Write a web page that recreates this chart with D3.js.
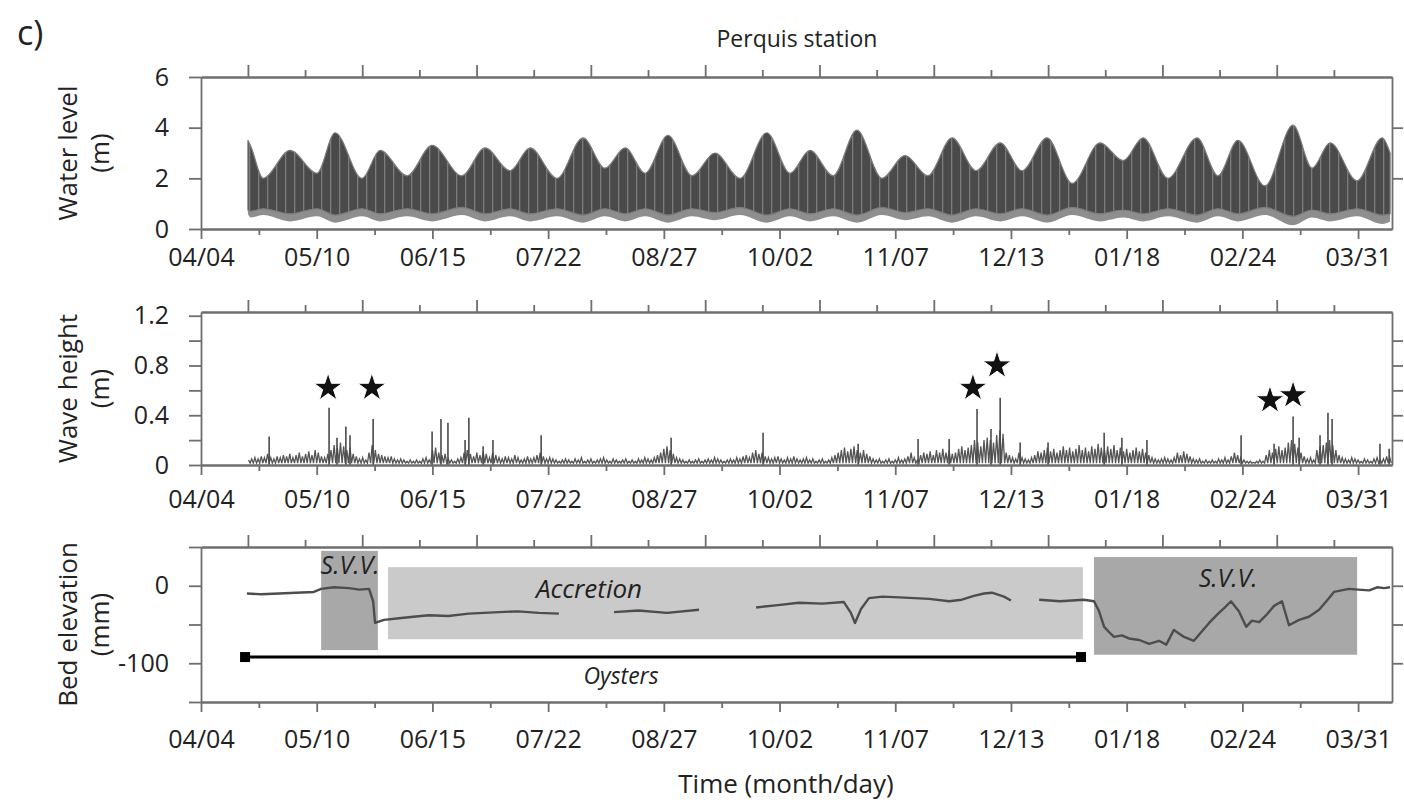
<!DOCTYPE html>
<html><head><meta charset="utf-8">
<script src="https://cdn.jsdelivr.net/npm/d3@7"></script>
<style>
body{margin:0;background:#fff}
text{font-family:"Open Sans","Noto Sans",sans-serif;fill:#222}
</style>
</head><body>
<svg id="c" width="1404" height="808"></svg>
<script>
// ---------- data ----------
const xTickLabels = ["04/04","05/10","06/15","07/22","08/27","10/02","11/07","12/13","01/18","02/24","03/31"];

// Water level: envelope read at spring peaks / neap troughs (day since 04/04, metres)
const tideDays   = [14.8,15.6,19.6,28.1,36.6,42.3,50.8,56.5,65.0,72.9,82.3,89.6,97.5,103.8,112.3,120.5,127.4,133.8,140.1,147.3,154.9,162.1,170.0,178.5,185.8,192.1,199.4,206.9,214.8,222.1,229.3,236.9,244.5,252.1,259.0,266.9,274.8,283.6,290.9,297.2,305.0,314.2,320.8,327.1,335.6,344.5,350.5,356.2,364.7,372.6,375.1];
const tideHigh   = [3.5,3.3,2.0,3.1,2.2,3.8,2.0,3.1,2.1,3.3,2.1,3.2,2.3,3.2,2.0,3.6,2.4,3.2,2.2,3.7,2.1,3.0,2.0,3.8,2.2,3.1,2.1,3.9,2.0,2.9,2.1,3.6,2.3,3.4,2.3,3.6,1.8,3.4,2.7,3.6,2.0,3.6,2.1,3.5,1.7,4.1,2.4,3.4,1.9,3.6,3.0];
const tideLow    = [0.75,0.7,0.8,0.6,0.8,0.55,0.8,0.6,0.8,0.6,0.85,0.6,0.8,0.6,0.8,0.55,0.8,0.6,0.8,0.55,0.8,0.65,0.85,0.55,0.8,0.6,0.8,0.55,0.85,0.65,0.8,0.55,0.8,0.6,0.8,0.55,0.85,0.6,0.75,0.6,0.8,0.55,0.8,0.6,0.85,0.5,0.75,0.6,0.8,0.55,0.6];
const tideLowest = [0.6,0.45,0.55,0.3,0.5,0.25,0.5,0.3,0.5,0.3,0.55,0.3,0.5,0.3,0.5,0.25,0.5,0.3,0.5,0.25,0.5,0.35,0.55,0.25,0.5,0.3,0.5,0.25,0.55,0.35,0.5,0.25,0.5,0.3,0.5,0.25,0.55,0.3,0.45,0.3,0.5,0.25,0.5,0.3,0.55,0.15,0.45,0.3,0.5,0.2,0.3];

// Wave height: daily background maxima from day 15 (m), and the quiet floor between them
const waveBase = [
  0.04,0.05,0.06,0.05,0.07,0.06,0.09,0.06,0.05,0.07,
  0.06,0.08,0.07,0.09,0.06,0.08,0.10,0.07,0.09,0.11,
  0.08,0.12,0.10,0.07,0.06,0.09,0.12,0.16,0.14,0.18,
  0.15,0.12,0.14,0.09,0.07,0.05,0.06,0.04,0.10,0.16,
  0.12,0.09,0.08,0.07,0.06,0.07,0.05,0.04,0.05,0.04,
  0.03,0.04,0.03,0.04,0.03,0.05,0.06,0.04,0.12,0.14,
  0.10,0.08,0.09,0.05,0.04,0.03,0.05,0.06,0.10,0.12,
  0.09,0.07,0.10,0.08,0.11,0.09,0.06,0.10,0.08,0.06,
  0.05,0.07,0.06,0.05,0.08,0.06,0.04,0.05,0.07,0.05,
  0.06,0.08,0.10,0.07,0.05,0.06,0.05,0.04,0.03,0.04,
  0.05,0.04,0.03,0.05,0.04,0.06,0.03,0.04,0.05,0.03,
  0.04,0.05,0.06,0.04,0.03,0.05,0.04,0.03,0.04,0.05,
  0.03,0.04,0.03,0.05,0.04,0.06,0.05,0.04,0.06,0.08,
  0.10,0.13,0.15,0.12,0.09,0.06,0.05,0.04,0.03,0.04,
  0.03,0.04,0.05,0.03,0.04,0.05,0.04,0.06,0.05,0.04,
  0.03,0.04,0.05,0.04,0.06,0.05,0.07,0.08,0.06,0.10,
  0.12,0.09,0.10,0.07,0.06,0.05,0.06,0.07,0.05,0.04,
  0.06,0.05,0.07,0.05,0.04,0.05,0.06,0.04,0.05,0.03,
  0.04,0.05,0.03,0.04,0.06,0.08,0.10,0.12,0.14,0.11,
  0.13,0.15,0.12,0.10,0.12,0.09,0.07,0.05,0.04,0.05,
  0.03,0.04,0.05,0.03,0.04,0.06,0.04,0.05,0.07,0.10,
  0.06,0.04,0.08,0.10,0.09,0.11,0.08,0.12,0.10,0.13,
  0.10,0.12,0.09,0.10,0.13,0.15,0.12,0.14,0.16,0.20,
  0.18,0.15,0.20,0.22,0.20,0.18,0.24,0.28,0.25,0.10,
  0.08,0.06,0.05,0.10,0.06,0.05,0.04,0.06,0.08,0.11,
  0.10,0.12,0.14,0.11,0.13,0.10,0.12,0.15,0.12,0.14,
  0.11,0.13,0.16,0.12,0.14,0.11,0.15,0.13,0.17,0.14,
  0.12,0.15,0.13,0.16,0.12,0.14,0.11,0.13,0.10,0.12,
  0.14,0.11,0.13,0.10,0.08,0.06,0.05,0.04,0.05,0.06,
  0.05,0.04,0.06,0.10,0.08,0.11,0.09,0.07,0.05,0.04,
  0.05,0.03,0.04,0.03,0.04,0.03,0.05,0.04,0.06,0.04,
  0.07,0.10,0.08,0.06,0.04,0.03,0.03,0.02,0.03,0.04,
  0.03,0.08,0.12,0.10,0.13,0.15,0.12,0.14,0.18,0.20,
  0.17,0.14,0.10,0.07,0.05,0.06,0.04,0.12,0.15,0.16,
  0.18,0.20,0.16,0.12,0.08,0.06,0.05,0.04,0.06,0.05,
  0.04,0.03,0.05,0.04,0.03,0.05,0.06,0.04,0.05,0.07,0.06];
const waveBaseStart = 15;
const waveFloor = 0.015;
const spikeDays   = [21.5,40.4,42.9,45.7,47.0,54.3,72.9,75.7,77.9,83.3,84.5,89.0,92.1,107.3,148.3,177.3,207.3,226.2,236.0,244.8,249.2,252.1,258.4,267.2,284.9,290.5,298.4,328.1,338.5,344.5,346.4,353.0,355.5,356.8,371.9,374.8];
const spikeValues = [0.23,0.46,0.22,0.31,0.24,0.37,0.27,0.37,0.34,0.20,0.38,0.15,0.20,0.24,0.22,0.26,0.17,0.21,0.21,0.45,0.29,0.54,0.18,0.18,0.26,0.22,0.20,0.24,0.17,0.39,0.22,0.24,0.42,0.37,0.17,0.13];
const starDays   = [40.1,53.9,243.5,251.1,337.2,344.5];
const starValues = [0.62,0.62,0.62,0.80,0.52,0.56];

// Bed elevation (mm), null = gap
const bedDays   = [14.5,19,24.6,30,35.6,37.9,42,46.7,50,53.0,54.3,54.9,57.7,62.5,67,71.9,78,84.5,94.0,100,106.6,112.9,113.5,130.0,130.3,138,147,157.1,157.5,174.8,175.1,182,188.6,196,202.8,205.0,206.3,208.2,210.7,215,220.2,225,229.7,236.0,240,243.8,247,249.5,253.3,255.5,256,264,264.4,271,278.5,281.7,283.3,284.9,286.5,288.0,290.5,292.7,296,299.1,302.2,304.5,306.9,310.1,313.2,315.5,318.0,321.1,323,324.9,327.4,329.7,331.5,333.8,336,338.5,341.0,343.2,346.4,349.5,352.7,355,357.4,362.1,365,368.5,371,373.2,375.1];
const bedValues = [-10,-11,-10,-9,-8,-4,-2,-3,-5,-4,-20,-48,-44,-42,-40,-38,-39,-36,-34,-33,-35,-36,null,null,-34,-32,-35,-31,null,null,-28,-25,-22,-23,-21,-35,-48,-30,-16,-14,-15,-16,-17,-20,-18,-13,-10,-9,-14,-19,null,null,-18,-20,-18,-20,-33,-53,-60,-66,-64,-68,-70,-75,-71,-76,-57,-66,-71,-60,-48,-35,-28,-20,-33,-53,-45,-47,-38,-26,-20,-51,-44,-40,-31,-20,-8,-4,-5,-6,-2,-3,-2];
const zoneNames  = ["S.V.V.","Accretion","S.V.V."];
const zoneStart  = [37.9,59.0,281.7];
const zoneEnd    = [55.8,278.2,364.7];
const zoneTop    = [45,24,37];
const zoneBottom = [-83,-69,-89];
const zoneKind   = ["svv","acc","svv"];
const zoneLabelDay = [47,122.4,324];
const zoneLabelVal = [14.7,-16,-1.3];
const oysterStart = 13.9, oysterEnd = 277.6, oysterLevel = -92;
const oysterLabel = "Oysters", oysterLabelDay = 132.5, oysterLabelVal = -126.7;

// ---------- drawing ----------
const svg = d3.select("#c");
const axisColor = "#6e6e6e";
const x = d3.scaleLinear().domain([0, 375.7]).range([201, 1392]);
const xMajor = d3.range(11).map(i => i * 36.5);
const xMinor = d3.range(10).map(i => i * 36.5 + 18.25);
const topMajor = d3.range(10).map(i => 14.8 + i * 36.06);
const topMinor = d3.range(10).map(i => 32.83 + i * 36.06);

// texture for tidal band
const defs = svg.append("defs");
const pat = defs.append("pattern").attr("id", "tideTex").attr("patternUnits", "userSpaceOnUse")
  .attr("width", 9).attr("height", 20);
pat.append("rect").attr("width", 9).attr("height", 20).attr("fill", "#4a4a4a");
pat.append("rect").attr("x", 6).attr("width", 1.3).attr("height", 20).attr("fill", "#7c7c7c");

function frame(y, o) {
  const g = svg.append("g");
  g.append("g").attr("transform", `translate(0,${o.bottom})`)
    .call(d3.axisBottom(x).tickValues(xMajor).tickFormat(d => xTickLabels[xMajor.indexOf(d)]).tickSize(10).tickSizeOuter(0).tickPadding(o.xpad));
  g.append("g").attr("transform", `translate(0,${o.bottom})`)
    .call(d3.axisBottom(x).tickValues(xMinor).tickFormat("").tickSize(6).tickSizeOuter(0));
  g.append("g").attr("transform", `translate(0,${o.top})`)
    .call(d3.axisTop(x).tickValues(topMajor).tickFormat("").tickSize(12).tickSizeOuter(0));
  g.append("g").attr("transform", `translate(0,${o.top})`)
    .call(d3.axisTop(x).tickValues(topMinor).tickFormat("").tickSize(7).tickSizeOuter(0));
  g.append("g").attr("transform", `translate(${x.range()[0]},0)`)
    .call(d3.axisLeft(y).tickValues(o.left).tickFormat((d) => o.leftLabels[o.left.indexOf(d)]).tickSize(12).tickSizeOuter(0).tickPadding(20));
  g.append("g").attr("transform", `translate(${x.range()[1]},0)`)
    .call(d3.axisRight(y).tickValues(o.right).tickFormat("").tickSize(11).tickSizeOuter(0));
  g.selectAll(".domain, .tick line").attr("stroke", axisColor).attr("stroke-width", 1.8);
  g.selectAll("text").attr("font-size", 25).attr("fill", "#222").attr("font-family", '"Open Sans",sans-serif');
  const cy = (o.top + o.bottom) / 2;
  o.title.forEach((t, i) => {
    svg.append("text").attr("transform", `translate(${77 + i * 32},${cy}) rotate(-90)`)
      .attr("text-anchor", "middle").attr("font-size", 26).text(t);
  });
}

// Panel 1
const y1 = d3.scaleLinear().domain([0, 6]).range([229, 77]);
const tide = tideDays.map((d, i) => ({day: d, hi: tideHigh[i], lo: tideLow[i], lst: tideLowest[i]}));
svg.append("path").datum(tide)
  .attr("d", d3.area().x(d => x(d.day)).y0(d => y1(d.lst)).y1(d => y1(d.lo)).curve(d3.curveMonotoneX))
  .attr("fill", "#8e8e8e");
svg.append("path").datum(tide)
  .attr("d", d3.area().x(d => x(d.day)).y0(d => y1(d.lo)).y1(d => y1(d.hi)).curve(d3.curveMonotoneX))
  .attr("fill", "url(#tideTex)").attr("stroke", "#7a7a7a").attr("stroke-width", 1.2);
frame(y1, {top: 77, bottom: 229, xpad: 9, left: [0,2,4,6], leftLabels: ["0","2","4","6"], right: [2,4], title: ["Water level","(m)"]});

// Panel 2
const y2 = d3.scaleLinear().domain([0, 1.23]).range([465, 312]);
const wavePts = waveBase.flatMap((v, i) => [[waveBaseStart + i, v], [waveBaseStart + i + 0.5, waveFloor]]);
svg.append("path").datum(wavePts)
  .attr("d", d3.line().x(d => x(d[0])).y(d => y2(d[1])))
  .attr("fill", "none").attr("stroke", "#555").attr("stroke-width", 1.3);
svg.append("g").selectAll("line").data(spikeDays).join("line")
  .attr("x1", d => x(d)).attr("x2", d => x(d))
  .attr("y1", y2(0)).attr("y2", (d, i) => y2(spikeValues[i]))
  .attr("stroke", "#4a4a4a").attr("stroke-width", 1.6);
svg.append("g").selectAll("path").data(starDays).join("path")
  .attr("d", d3.symbol(d3.symbolStar, 250))
  .attr("transform", (d, i) => `translate(${x(d)},${y2(starValues[i])})`)
  .attr("fill", "#111").attr("stroke", "#fff").attr("stroke-width", 1);
frame(y2, {top: 312, bottom: 465, xpad: 15, left: [0,0.2,0.4,0.6,0.8,1.0,1.2], leftLabels: ["0","","0.4","","0.8","","1.2"], right: [0.2,0.4,0.6,0.8,1.0], title: ["Wave height","(m)"]});

// Panel 3
const y3 = d3.scaleLinear().domain([-150, 50]).range([702, 547]);
const zoneFill = {svv: "#a8a8a8", acc: "#cacaca"};
zoneNames.forEach((n, i) => {
  svg.append("rect").attr("x", x(zoneStart[i])).attr("width", x(zoneEnd[i]) - x(zoneStart[i]))
    .attr("y", y3(zoneTop[i])).attr("height", y3(zoneBottom[i]) - y3(zoneTop[i]))
    .attr("fill", zoneFill[zoneKind[i]]);
});
const bed = bedDays.map((d, i) => [d, bedValues[i]]);
svg.append("path").datum(bed)
  .attr("d", d3.line().defined(d => d[1] !== null).x(d => x(d[0])).y(d => y3(d[1])))
  .attr("fill", "none").attr("stroke", "#4d4d4d").attr("stroke-width", 2.4).attr("stroke-linejoin", "round");
zoneNames.forEach((n, i) => {
  svg.append("text").attr("x", x(zoneLabelDay[i])).attr("y", y3(zoneLabelVal[i]))
    .attr("text-anchor", "middle").attr("font-size", i === 1 ? 26 : 25).attr("font-style", "italic").text(n);
});
svg.append("line").attr("x1", x(oysterStart)).attr("x2", x(oysterEnd))
  .attr("y1", y3(oysterLevel)).attr("y2", y3(oysterLevel)).attr("stroke", "#000").attr("stroke-width", 3);
[oysterStart, oysterEnd].forEach(d => {
  svg.append("rect").attr("x", x(d) - 5).attr("y", y3(oysterLevel) - 5).attr("width", 10).attr("height", 10).attr("fill", "#000");
});
svg.append("text").attr("x", x(oysterLabelDay)).attr("y", y3(oysterLabelVal))
  .attr("text-anchor", "middle").attr("font-size", 23).attr("font-style", "italic").text(oysterLabel);
frame(y3, {top: 547, bottom: 702, xpad: 18, left: [-150,-100,-50,0,50], leftLabels: ["","-100","","0",""], right: [-100,-50,0], title: ["Bed elevation","(mm)"]});

// Titles
svg.append("text").attr("x", 17).attr("y", 45).attr("font-size", 34).text("c)");
svg.append("text").attr("x", 797).attr("y", 47).attr("text-anchor", "middle").attr("font-size", 23).text("Perquis station");
svg.append("text").attr("x", 786).attr("y", 793).attr("text-anchor", "middle").attr("font-size", 26).text("Time (month/day)");
</script>
</body></html>
